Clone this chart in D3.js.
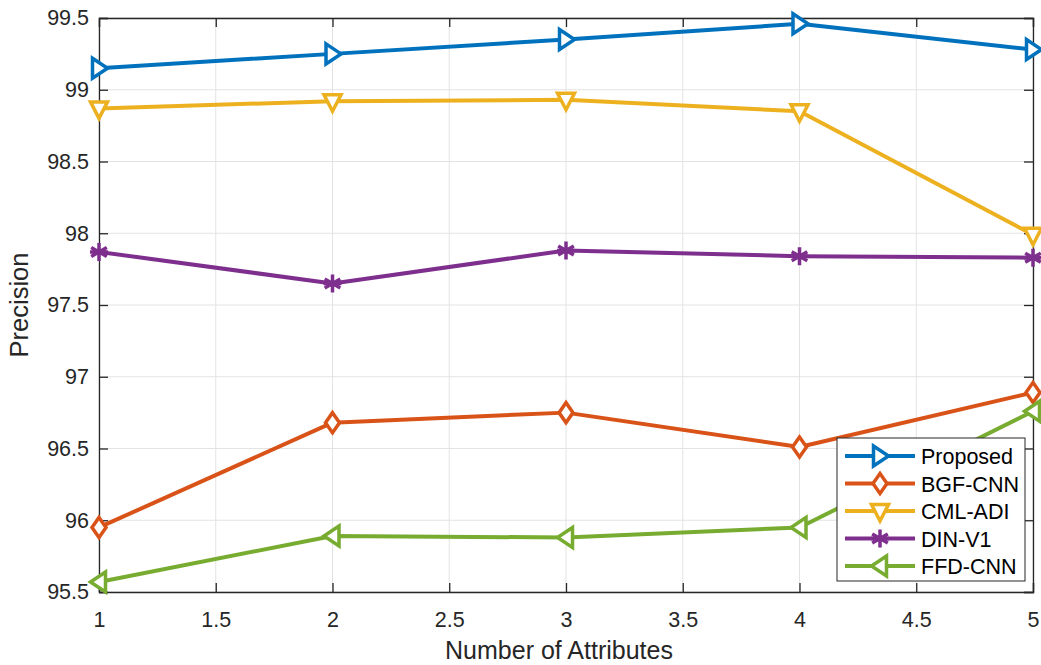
<!DOCTYPE html>
<html>
<head>
<meta charset="utf-8">
<script src="https://cdn.jsdelivr.net/npm/d3@7"></script>
<style>
  body { margin: 0; background: #fff; }
  svg { display: block; font-family: "Liberation Sans", Arial, sans-serif; }
</style>
</head>
<body>
<svg id="chart" width="1041" height="665"></svg>
<script>
// Precision vs. number of attributes for each method
const attributes = [1, 2, 3, 4, 5];
const seriesNames = ["Proposed", "BGF-CNN", "CML-ADI", "DIN-V1", "FFD-CNN"];
const proposed = [99.15, 99.25, 99.35, 99.46, 99.28];
const bgfCnn   = [95.95, 96.68, 96.75, 96.51, 96.89];
const cmlAdi   = [98.87, 98.92, 98.93, 98.85, 97.99];
const dinV1    = [97.87, 97.65, 97.88, 97.84, 97.83];
const ffdCnn   = [95.57, 95.89, 95.88, 95.95, 96.76];
const xTicks = [1, 1.5, 2, 2.5, 3, 3.5, 4, 4.5, 5];
const yTicks = [95.5, 96, 96.5, 97, 97.5, 98, 98.5, 99, 99.5];

const seriesValues = [proposed, bgfCnn, cmlAdi, dinV1, ffdCnn];
const colors = ["#0072BD", "#D95319", "#EDB120", "#7E2F8E", "#77AC30"];
const markers = ["right", "diamond", "down", "star", "left"];

const margin = { left: 99, right: 8, top: 18, bottom: 73 };
const W = 1041, H = 665;
const svg = d3.select("#chart");

const x = d3.scaleLinear().domain([1, 5]).range([margin.left, W - margin.right]);
const y = d3.scaleLinear().domain([95.5, 99.5]).range([H - margin.bottom, margin.top]);

const axisColor = "#262626";
const gridColor = "#e3e3e3";

// grid
const grid = svg.append("g");
grid.selectAll("line.vx").data(xTicks).join("line")
  .attr("x1", d => x(d)).attr("x2", d => x(d))
  .attr("y1", y(95.5)).attr("y2", y(99.5))
  .attr("stroke", gridColor).attr("stroke-width", 1);
grid.selectAll("line.hy").data(yTicks).join("line")
  .attr("y1", d => y(d)).attr("y2", d => y(d))
  .attr("x1", x(1)).attr("x2", x(5))
  .attr("stroke", gridColor).attr("stroke-width", 1);

// axes (ticks inward on all four sides)
const fmt = d => d3.format("")(d);
const xAxis = svg.append("g").attr("transform", `translate(0,${y(95.5)})`)
  .call(d3.axisBottom(x).tickValues(xTicks).tickSize(-9).tickPadding(20).tickFormat(fmt));
const yAxis = svg.append("g").attr("transform", `translate(${x(1)},0)`)
  .call(d3.axisLeft(y).tickValues(yTicks).tickSize(-9).tickPadding(10).tickFormat(fmt));
const xTop = svg.append("g").attr("transform", `translate(0,${y(99.5)})`)
  .call(d3.axisTop(x).tickValues(xTicks).tickSize(-9).tickFormat(""));
const yRight = svg.append("g").attr("transform", `translate(${x(5)},0)`)
  .call(d3.axisRight(y).tickValues(yTicks).tickSize(-9).tickFormat(""));
[xAxis, yAxis, xTop, yRight].forEach(g => {
  g.selectAll("path.domain").attr("stroke", axisColor).attr("stroke-width", 1.3);
  g.selectAll(".tick line").attr("stroke", axisColor).attr("stroke-width", 1.3);
  g.selectAll(".tick text").attr("fill", axisColor).attr("font-size", 21.5)
    .attr("font-family", "'Liberation Sans', Arial, sans-serif");
});

// axis titles
svg.append("text").attr("x", 559).attr("y", 659)
  .attr("text-anchor", "middle").attr("font-size", 25).attr("fill", axisColor)
  .text("Number of Attributes");
svg.append("text").attr("transform", `translate(28,${(y(95.5) + y(99.5)) / 2}) rotate(-90)`)
  .attr("text-anchor", "middle").attr("font-size", 25.5).attr("fill", axisColor)
  .text("Precision");

// marker shapes
function markerPath(type, s) {
  switch (type) {
    case "right": return `M${-s * 0.65},${-s} L${s * 0.85},0 L${-s * 0.65},${s} Z`;
    case "left": return `M${s * 0.65},${-s} L${-s * 0.85},0 L${s * 0.65},${s} Z`;
    case "down": return `M${-s * 0.85},${-s * 0.65} L${s * 0.85},${-s * 0.65} L0,${s} Z`;
    case "diamond": return `M0,${-s} L${s * 0.7},0 L0,${s} L${-s * 0.7},0 Z`;
    case "star": {
      const r = s * 0.9;
      let p = "";
      for (let i = 0; i < 3; i++) {
        const a = Math.PI / 2 + i * Math.PI / 3;
        p += `M${r * Math.cos(a)},${r * Math.sin(a)} L${-r * Math.cos(a)},${-r * Math.sin(a)} `;
      }
      p += `M${-r},0 L${r},0`;
      return p;
    }
  }
}
function drawMarker(g, type, color, cx, cy) {
  g.append("path")
    .attr("d", markerPath(type, 10))
    .attr("transform", `translate(${cx},${cy})`)
    .attr("fill", type === "star" ? "none" : "#fff")
    .attr("stroke", color)
    .attr("stroke-width", 3.5)
    .attr("stroke-linejoin", "miter");
}

const line = d3.line().x((d, i) => x(attributes[i])).y(d => y(d));
const plot = svg.append("g");
seriesValues.forEach((vals, k) => {
  const g = plot.append("g");
  g.append("path").datum(vals).attr("d", line)
    .attr("fill", "none").attr("stroke", colors[k]).attr("stroke-width", 4)
    .attr("stroke-linejoin", "round");
  vals.forEach((v, i) => drawMarker(g, markers[k], colors[k], x(attributes[i]), y(v)));
});

// legend
const lg = svg.append("g").attr("transform", "translate(837,438)");
lg.append("rect").attr("width", 188).attr("height", 143)
  .attr("fill", "#fff").attr("stroke", axisColor).attr("stroke-width", 1);
seriesNames.forEach((name, k) => {
  const ry = 18 + k * 27.5;
  lg.append("line").attr("x1", 8).attr("x2", 78).attr("y1", ry).attr("y2", ry)
    .attr("stroke", colors[k]).attr("stroke-width", 4);
  drawMarker(lg, markers[k], colors[k], 43, ry);
  lg.append("text").attr("x", 84).attr("y", ry + 8).attr("font-size", 21.5)
    .attr("fill", "#000").text(name);
});
</script>
</body>
</html>
